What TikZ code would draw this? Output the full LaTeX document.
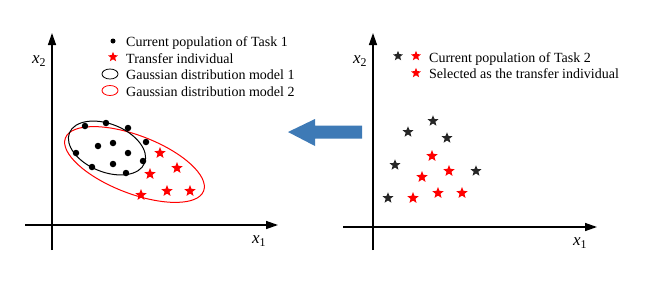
\documentclass[tikz,border=0pt]{standalone}
\usepackage{fontspec}
\setmainfont{Liberation Serif}
\usetikzlibrary{shapes.geometric,arrows.meta}
\definecolor{arrowblue}{RGB}{62,122,182}
\begin{document}
\begin{tikzpicture}[x=1pt,y=-1pt,
 axis/.style={line width=1.4pt,-{Triangle[length=12pt,width=8pt]}},
 dot/.style={circle,fill=black,inner sep=0pt,minimum size=6.5pt},
 rstar/.style={star,star points=5,star point ratio=2.3,fill=red,inner sep=0pt,minimum size=12pt},
 kstar/.style={star,star points=5,star point ratio=2.3,fill=black!85,inner sep=0pt,minimum size=11.5pt},
 lbl/.style={anchor=base west,font=\fontsize{14}{16}\selectfont,inner sep=0pt},
 axlbl/.style={font=\fontsize{17}{19}\selectfont,inner sep=0pt},
]
\useasboundingbox (0,0) rectangle (661,287);

% ---------- left panel ----------
\coordinate (L0) at (52,250);
\coordinate (L1) at (52,33);
\coordinate (L2) at (25,225);
\coordinate (L3) at (278,225);
\draw[axis] (L0) -- (L1);
\draw[axis] (L2) -- (L3);
\node[axlbl] (lx2) at (39,61) {\textit{x}\textsubscript{2}};
\node[axlbl] (lx1) at (259,241) {\textit{x}\textsubscript{1}};

% legend
\node[dot,minimum size=5pt] (lg1) at (113,41) {};
\node[lbl] (lt1) at (126,46.5) {Current population of Task 1};
\node[rstar,minimum size=10.5pt] (lg2) at (113,57) {};
\node[lbl] (lt2) at (126,63) {Transfer individual};
\draw[line width=0.8pt] (110,74) ellipse (8 and 5);
\node[lbl] (lt3) at (126,79.5) {Gaussian distribution model 1};
\draw[red,line width=0.8pt] (110,90.5) ellipse (8 and 5);
\node[lbl] (lt4) at (126,96) {Gaussian distribution model 2};

% ellipses
\draw[red,line width=1pt,rotate around={-21:(134.5,164.5)}] (134.5,164.5) ellipse (74 and 29);
\draw[black,line width=1pt,rotate around={-22:(107,148)}] (107,148) ellipse (40.5 and 24);

% dots
\foreach \p [count=\i] in {(85,126),(106,123),(128,128),(146,142),(98,146),(113,143),(128,153),(76,153),(113,164),(143,161),(92,167),(126,173)}
  \node[dot] (d\i) at \p {};
% red stars
\foreach \p [count=\i] in {(160,153),(177,168),(150,174),(141,195),(167,191),(190,191)}
  \node[rstar] (s\i) at \p {};

% ---------- transfer arrow ----------
\fill[arrowblue] (288,132) -- (315,119) -- (315,125.5) -- (362,125.5) -- (362,138.5) -- (315,138.5) -- (315,146) -- cycle;

% ---------- right panel ----------
\coordinate (R0) at (373,250);
\coordinate (R1) at (373,33);
\coordinate (R2) at (343,227);
\coordinate (R3) at (597,227);
\draw[axis] (R0) -- (R1);
\draw[axis] (R2) -- (R3);
\node[axlbl] (rx2) at (360,61) {\textit{x}\textsubscript{2}};
\node[axlbl] (rx1) at (580,243) {\textit{x}\textsubscript{1}};

% legend
\node[kstar,minimum size=10.5pt] (rg1) at (398,56) {};
\node[rstar,minimum size=10.5pt] (rg2) at (416,56) {};
\node[lbl] (rt1) at (429,62) {Current population of Task 2};
\node[rstar,minimum size=10.5pt] (rg3) at (416,73) {};
\node[lbl] (rt2) at (429,78.5) {Selected as the transfer individual};

% stars
\foreach \p [count=\i] in {(433,121),(408,132),(447,138),(395,165),(476,171),(388,198)}
  \node[kstar] (k\i) at \p {};
\foreach \p [count=\i] in {(432,156),(449,171),(422,177),(413,198),(438,193),(462,193)}
  \node[rstar] (r\i) at \p {};
\end{tikzpicture}
\end{document}
